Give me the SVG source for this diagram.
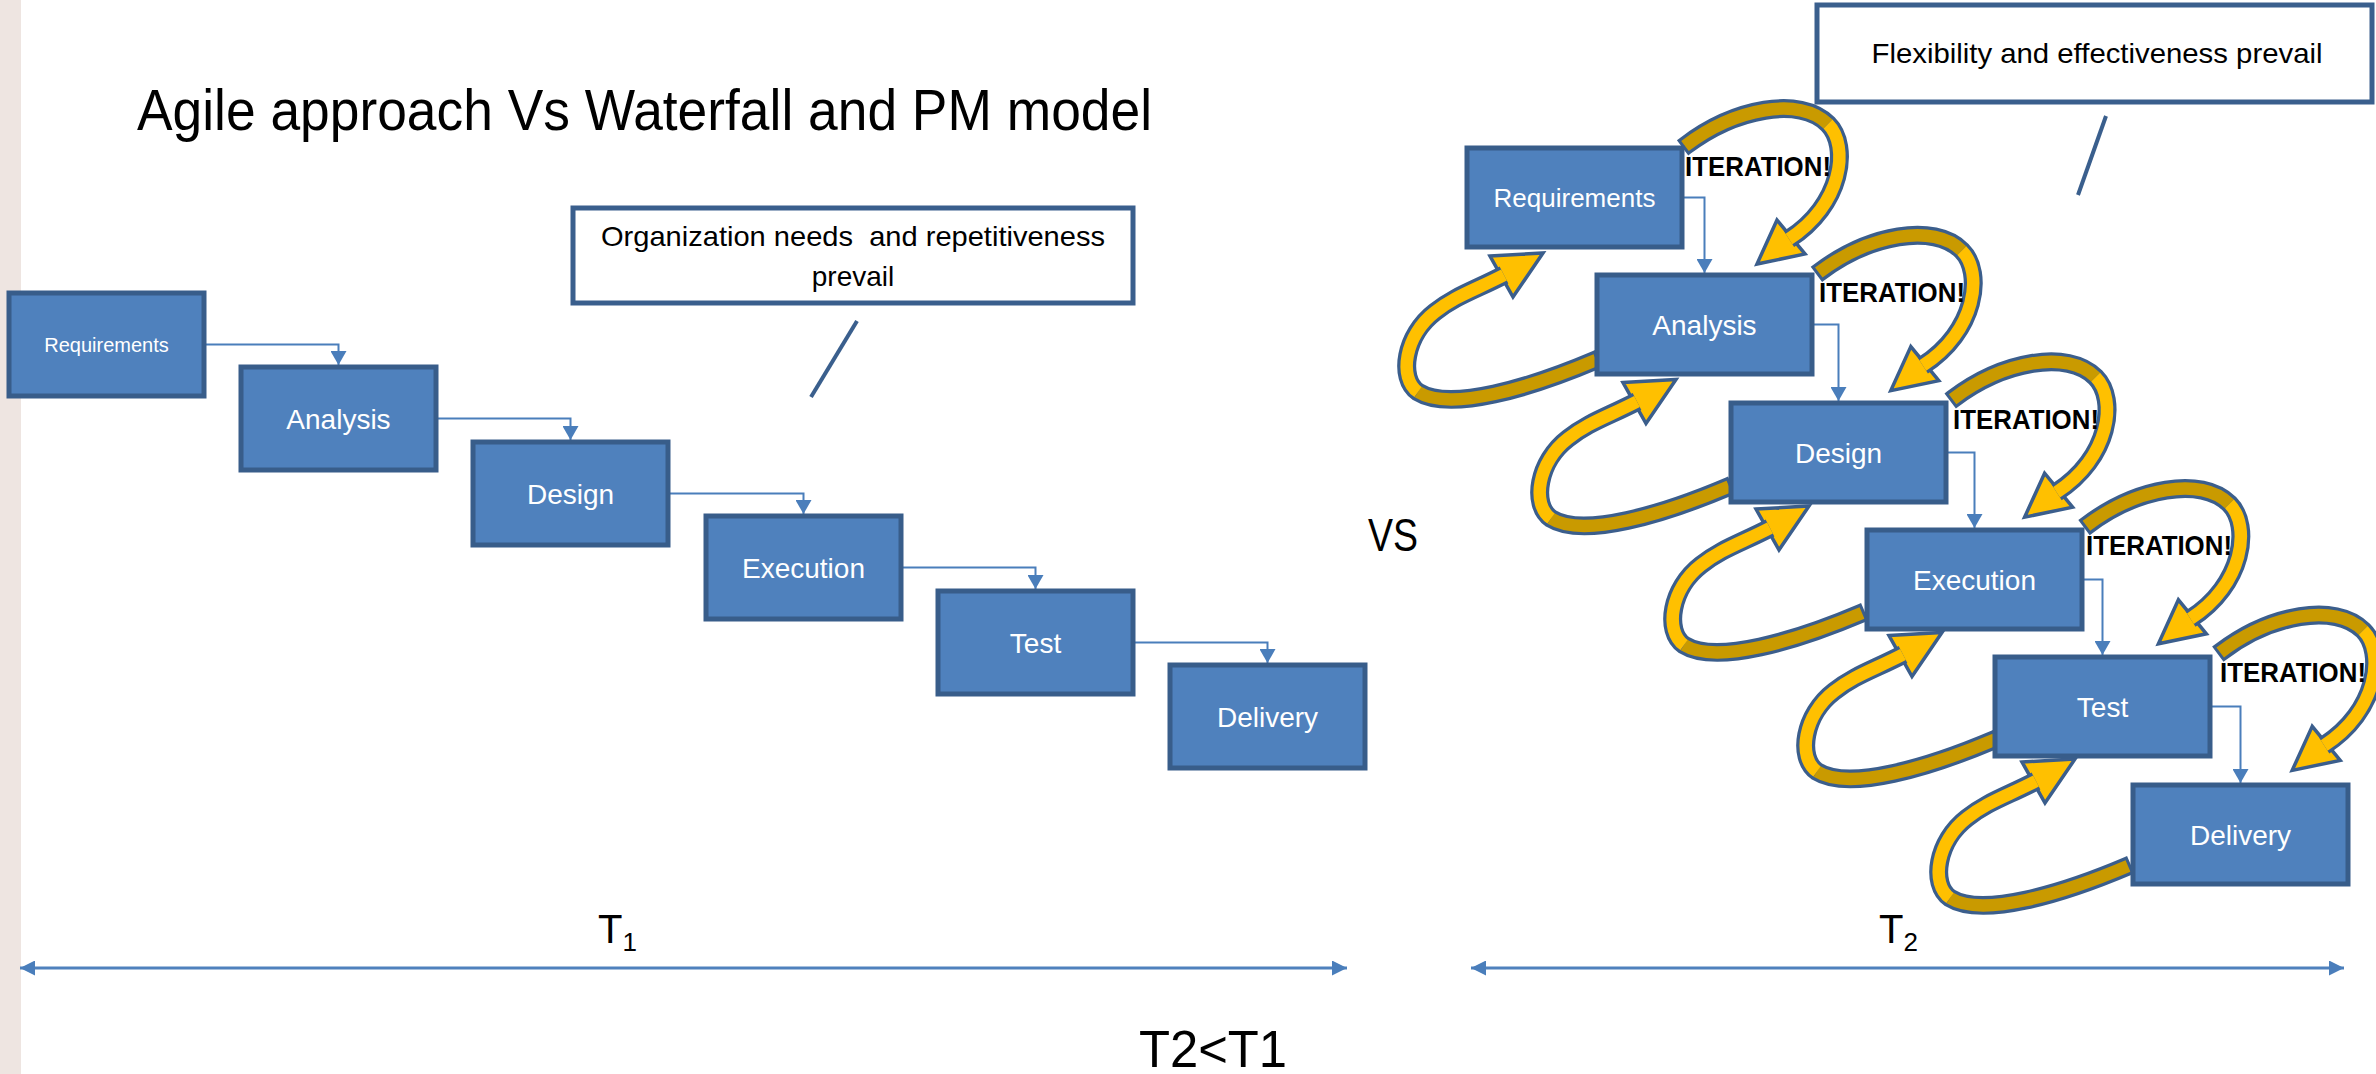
<svg xmlns="http://www.w3.org/2000/svg" xmlns:xlink="http://www.w3.org/1999/xlink" width="2376" height="1074" viewBox="0 0 2376 1074">
<style>
.box{fill:#4F81BD;stroke:#385D8A;stroke-width:5}
.note{fill:#fff;stroke:#3A5F8D;stroke-width:5}
.bt{font-family:"Liberation Sans",Arial,sans-serif;fill:#fff;text-anchor:middle;font-size:28px}
.tx{font-family:"Liberation Sans",Arial,sans-serif;fill:#000}
.conn{fill:none;stroke:#4A7EBB;stroke-width:2}
.iter{font-family:"Liberation Sans",Arial,sans-serif;font-weight:bold;font-size:28px;fill:#000}
.ol{fill:none;stroke:#3B5E8C;stroke-width:19}
.dk{fill:none;stroke:#C99A00;stroke-width:12.5}
.yl{fill:none;stroke:#FFC000;stroke-width:12.5}
.hd{fill:#FFC000;stroke:#3B5E8C;stroke-width:3.5;stroke-linejoin:miter}
.slash{stroke:#3A5F8D;stroke-width:4}
.span{fill:none;stroke:#4F81BD;stroke-width:3}
</style>
<defs>
<marker id="ah" viewBox="0 0 14 16" refX="14" refY="8" markerWidth="14" markerHeight="16" orient="auto" markerUnits="userSpaceOnUse"><path d="M0,0 L14,8 L0,16 z" fill="#4A7EBB"/></marker>
<marker id="sp" viewBox="0 0 15 15" refX="15" refY="7.5" markerWidth="15" markerHeight="15" orient="auto-start-reverse" markerUnits="userSpaceOnUse"><path d="M0,0 L15,7.5 L0,15 z" fill="#4A7EBB"/></marker>
<g id="arcTop">
<polygon class="hd" points="310,72 290,116 338,106"/>
<path class="ol" d="M215.6,-0.2 L218,-2 C268,-40 333,-52 361,-24 C383,-2 375,57 322,91"/>
<path class="dk" d="M218,-2 C268,-40 333,-52 361,-24"/>
<path class="yl" d="M361,-24 C383,-2 375,57 322,91"/>
</g>
<g id="arcBot">
<polygon class="hd" points="-107,-19 -54,-22 -84,22"/>
<path class="ol" d="M1.8,83.8 L-1,85 C-67,113 -147,137 -179,117 C-199,103 -192,60 -162,37 C-142,21 -122,15 -93,0"/>
<path class="dk" d="M-1,85 C-67,113 -147,137 -179,117"/>
<path class="yl" d="M-179,117 C-199,103 -192,60 -162,37 C-142,21 -122,15 -93,0"/>
</g>
</defs>
<rect width="2376" height="1074" fill="#fff"/>
<rect x="0" y="0" width="21" height="1074" fill="#EEE5E1"/>

<text class="tx" x="137" y="130" font-size="57" textLength="1015" lengthAdjust="spacingAndGlyphs">Agile approach Vs Waterfall and PM model</text>

<g id="note-organization">
<rect class="note" x="573" y="208" width="560" height="95"/>
<text class="tx" x="853" y="246" font-size="28" text-anchor="middle" textLength="504" lengthAdjust="spacingAndGlyphs" style="white-space:pre">Organization needs  and repetitiveness</text>
<text class="tx" x="853" y="286" font-size="28" text-anchor="middle">prevail</text>
<line class="slash" x1="857" y1="321" x2="811" y2="397"/>
</g>

<g id="note-flexibility">
<rect class="note" x="1817" y="5" width="555" height="97"/>
<text class="tx" x="2097" y="63" font-size="28" text-anchor="middle" textLength="451" lengthAdjust="spacingAndGlyphs">Flexibility and effectiveness prevail</text>
<line class="slash" x1="2106" y1="116" x2="2078" y2="195"/>
</g>

<g id="connectors">
<path class="conn" marker-end="url(#ah)" d="M204,344.5 H338.5 V365"/>
<path class="conn" marker-end="url(#ah)" d="M436,418.5 H570.5 V440"/>
<path class="conn" marker-end="url(#ah)" d="M668,493.5 H803.5 V514"/>
<path class="conn" marker-end="url(#ah)" d="M901,567.5 H1035.5 V589"/>
<path class="conn" marker-end="url(#ah)" d="M1133,642.5 H1267.5 V663"/>
<path class="conn" marker-end="url(#ah)" d="M1682,197.5 H1704.5 V273"/>
<path class="conn" marker-end="url(#ah)" d="M1812,324.5 H1838.5 V401"/>
<path class="conn" marker-end="url(#ah)" d="M1946,452.5 H1974.5 V528"/>
<path class="conn" marker-end="url(#ah)" d="M2082,579.5 H2102.5 V655"/>
<path class="conn" marker-end="url(#ah)" d="M2210,706.5 H2240.5 V783"/>
</g>

<g id="waterfall">
<g id="wf-requirements"><rect class="box" x="9" y="293" width="195" height="103"/><text class="bt" x="106.5" y="351.5" style="font-size:20px">Requirements</text></g>
<g id="wf-analysis"><rect class="box" x="241" y="367" width="195" height="103"/><text class="bt" x="338.5" y="428.5">Analysis</text></g>
<g id="wf-design"><rect class="box" x="473" y="442" width="195" height="103"/><text class="bt" x="570.5" y="503.5">Design</text></g>
<g id="wf-execution"><rect class="box" x="706" y="516" width="195" height="103"/><text class="bt" x="803.5" y="577.5">Execution</text></g>
<g id="wf-test"><rect class="box" x="938" y="591" width="195" height="103"/><text class="bt" x="1035.5" y="652.5">Test</text></g>
<g id="wf-delivery"><rect class="box" x="1170" y="665" width="195" height="103"/><text class="bt" x="1267.5" y="726.5">Delivery</text></g>
</g>

<text class="tx" x="1368" y="551" font-size="46" textLength="50" lengthAdjust="spacingAndGlyphs">VS</text>

<g id="iteration-arrows">
<use xlink:href="#arcTop" href="#arcTop" transform="translate(1467,148)"/>
<use xlink:href="#arcTop" href="#arcTop" transform="translate(1600.8,274.6)"/>
<use xlink:href="#arcTop" href="#arcTop" transform="translate(1734.6,401.2)"/>
<use xlink:href="#arcTop" href="#arcTop" transform="translate(1868.4,527.8)"/>
<use xlink:href="#arcTop" href="#arcTop" transform="translate(2002.2,654.4)"/>
<use xlink:href="#arcBot" href="#arcBot" transform="translate(1597,275)"/>
<use xlink:href="#arcBot" href="#arcBot" transform="translate(1730,401.5)"/>
<use xlink:href="#arcBot" href="#arcBot" transform="translate(1863,528)"/>
<use xlink:href="#arcBot" href="#arcBot" transform="translate(1996,654.5)"/>
<use xlink:href="#arcBot" href="#arcBot" transform="translate(2129,781)"/>
</g>

<g id="iteration-labels">
<text class="iter" x="1685" y="176" textLength="146" lengthAdjust="spacingAndGlyphs">ITERATION!</text>
<text class="iter" x="1819" y="302" textLength="146" lengthAdjust="spacingAndGlyphs">ITERATION!</text>
<text class="iter" x="1953" y="429" textLength="146" lengthAdjust="spacingAndGlyphs">ITERATION!</text>
<text class="iter" x="2086" y="555" textLength="146" lengthAdjust="spacingAndGlyphs">ITERATION!</text>
<text class="iter" x="2220" y="682" textLength="146" lengthAdjust="spacingAndGlyphs">ITERATION!</text>
</g>

<g id="agile">
<g id="ag-requirements"><rect class="box" x="1467" y="148" width="215" height="99"/><text class="bt" x="1574.5" y="207" style="font-size:26px">Requirements</text></g>
<g id="ag-analysis"><rect class="box" x="1597" y="275" width="215" height="99"/><text class="bt" x="1704.5" y="334.5">Analysis</text></g>
<g id="ag-design"><rect class="box" x="1731" y="403" width="215" height="99"/><text class="bt" x="1838.5" y="462.5">Design</text></g>
<g id="ag-execution"><rect class="box" x="1867" y="530" width="215" height="99"/><text class="bt" x="1974.5" y="589.5">Execution</text></g>
<g id="ag-test"><rect class="box" x="1995" y="657" width="215" height="99"/><text class="bt" x="2102.5" y="716.5">Test</text></g>
<g id="ag-delivery"><rect class="box" x="2133" y="785" width="215" height="99"/><text class="bt" x="2240.5" y="844.5">Delivery</text></g>
</g>

<g id="timelines">
<line class="span" x1="20" y1="968" x2="1347" y2="968" marker-start="url(#sp)" marker-end="url(#sp)"/>
<line class="span" x1="1471" y1="968" x2="2344" y2="968" marker-start="url(#sp)" marker-end="url(#sp)"/>
<text class="tx" x="598" y="943" font-size="40">T<tspan font-size="26" dy="8">1</tspan></text>
<text class="tx" x="1879" y="943" font-size="40">T<tspan font-size="26" dy="8">2</tspan></text>
<text class="tx" x="1139" y="1067" font-size="52" textLength="148" lengthAdjust="spacingAndGlyphs">T2&lt;T1</text>
</g>
</svg>
